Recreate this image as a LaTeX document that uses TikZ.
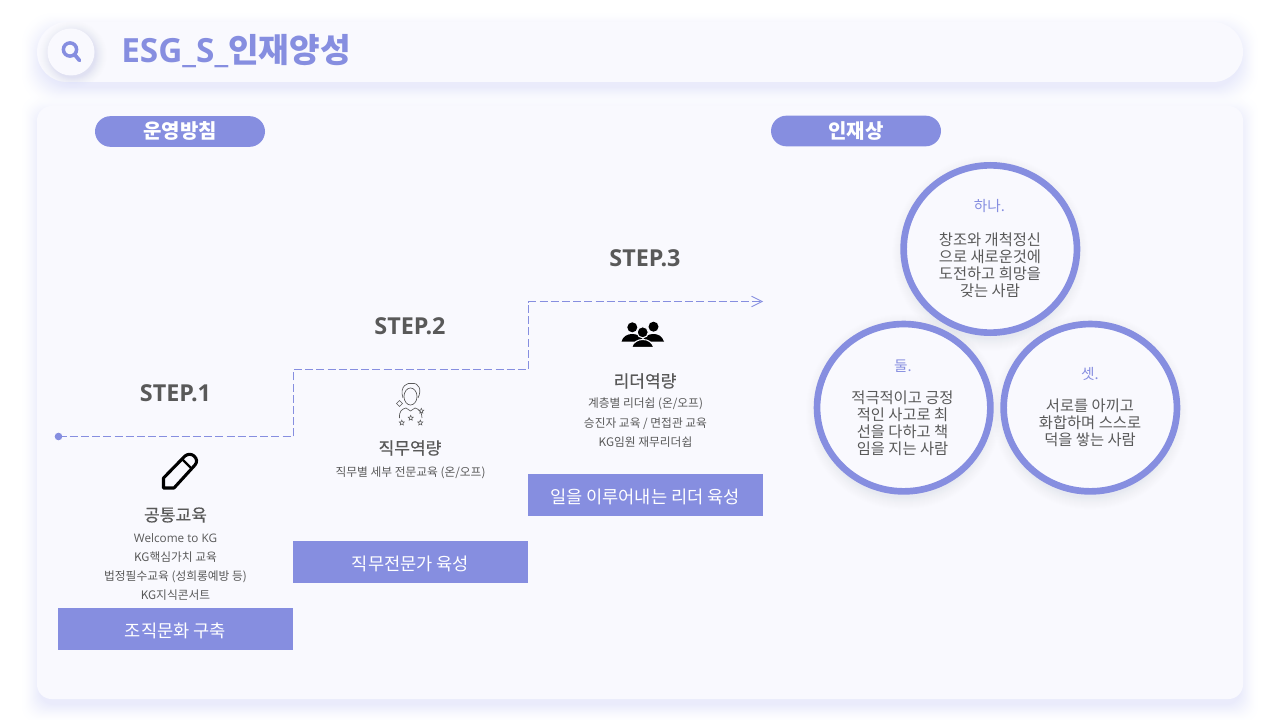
\documentclass[tikz,border=0pt]{standalone}
\usepackage{fontspec}
\setmainfont{Noto Sans CJK KR}
\newfontfamily\latinfont{Open Sans}
\newfontfamily\headfont[FakeBold=0.5]{Noto Sans CJK KR}
\usepackage{xcolor}
\usetikzlibrary{positioning,arrows.meta,shapes.geometric}
\definecolor{mainblue}{HTML}{868EE0}
\definecolor{panelbg}{HTML}{F9F9FE}
\definecolor{txtgray}{HTML}{595959}
\definecolor{shadowblue}{HTML}{9AA2EC}
\tikzset{
  pillbox/.style={fill=mainblue,text=white,rounded corners=11.6pt,minimum width=127.5pt,minimum height=23pt,inner sep=0pt,font=\fontsize{15}{18}\bfseries\selectfont},
  goalbox/.style={fill=mainblue,text=white,minimum width=176.25pt,minimum height=31.5pt,inner sep=0pt,text height=12pt,text depth=0pt,font=\fontsize{13.2}{15}\selectfont},
  steplabel/.style={text=txtgray,inner sep=0pt,font=\fontsize{17.5}{21}\latinfont\bfseries\selectfont},
  headlabel/.style={text=txtgray,inner sep=0pt,font=\fontsize{12.8}{15}\headfont\selectfont},
  smalllabel/.style={text=txtgray,inner sep=0pt,align=center,font=\fontsize{8.8}{14.4}\selectfont},
  ringcircle/.style={ellipse,draw=mainblue,fill=panelbg,line width=5pt,minimum width=130pt,minimum height=125.5pt,inner sep=0pt},
  ringhead/.style={text=mainblue,inner sep=0pt,font=\fontsize{11}{13}\selectfont},
  ringtext/.style={text=txtgray,inner sep=0pt,align=center,anchor=north,font=\fontsize{11.5}{12.75}\selectfont},
  iconstar/.style={star,star points=5,star point ratio=2.2,draw=txtgray,line width=0.4pt,minimum size=4pt,inner sep=0pt},
}
\begin{document}
\begin{tikzpicture}[x=0.75pt,y=0.75pt,yscale=-1,xscale=1]
\useasboundingbox (0,0) rectangle (1280,720);

%header bar and panel with their soft shadows
\foreach \s [evaluate=\s as \o using 0.0011*(20-\s)] in {19,18,...,0} {
  \fill [shadowblue,opacity=\o,rounded corners=22.5pt] (37-\s+2,22-\s+8) rectangle (1243+\s-2,82+\s+6);
  \fill [shadowblue,opacity=\o,rounded corners=11pt] (37-\s+2,106-\s+8) rectangle (1243+\s-2,699+\s+6);
}
\fill [panelbg,rounded corners=22.5pt] (37,22) rectangle (1243,82);
\fill [panelbg,rounded corners=11pt] (37,106) rectangle (1243,699);

%search badge
\foreach \s [evaluate=\s as \o using 0.003*(12-\s)] in {11,10,...,0} {
  \fill [shadowblue,opacity=\o] (73,55) circle (23+\s);
}
\fill [panelbg] (71,52) circle (23.5);
\draw [mainblue,line width=2.6pt] (70,49.5) circle (6.6);
\draw [mainblue,line width=2.8pt,line cap=round] (75,55) -- (79.5,60.5);

%title
\node (title) [anchor=west,text=mainblue,inner sep=0pt,font=\fontsize{25}{28}\bfseries\selectfont] at (121,51) {{\latinfont ESG\_S\_}인재양성};

%section labels
\node (policy) [pillbox] at (180,131.5) {운영방침};
\node (talent) [pillbox] at (856,131) {인재상};

%stair line
\coordinate (stairend) at (763,301.5);
\fill [mainblue] (58.5,436.5) circle (3.8);
\coordinate (stairstart) at (58.5,436.5);
\coordinate (turna) at (293.5,369.5);
\coordinate (turnb) at (528.5,301.5);
\draw [mainblue,line width=0.75pt,dash pattern=on 6pt off 2.4pt,-{Straight Barb[length=8pt,width=8pt,line width=0.6pt]}]
  (stairstart) -| (turna) -| (turnb) -- (stairend);

%step titles
\node (stepa) [steplabel] at (175.5,393) {STEP.1};
\node (stepb) [steplabel] at (410,326) {STEP.2};
\node (stepc) [steplabel] at (645,258) {STEP.3};

%pencil icon
\draw [black,line width=2.3pt,line join=round] (163.5,488) -- (163.5,478) -- (185,456) .. controls (188,453.5) and (192,454) .. (194,456) .. controls (197,458.5) and (197.5,462) .. (195,465) -- (174,488) -- cycle;
\draw [black,line width=1.6pt] (182,459) -- (192,469);

%person icon
\draw [txtgray,line width=0.5pt] (410.5,396.5) ellipse (6.5 and 8.5);
\draw [txtgray,line width=0.5pt] (403,398) .. controls (399,386) and (408,382) .. (412,383.5) .. controls (419,382.5) and (422,390) .. (418,398);
\draw [txtgray,line width=0.5pt] (399.5,418) .. controls (399,411) and (402,409) .. (406,408) -- (410.5,411) -- (415,408) .. controls (419,409) and (422,412) .. (422,418);
\node (stara) [iconstar] at (401.8,422.8) {};
\node (starb) [iconstar] at (410.7,418) {};
\node (starc) [iconstar] at (420.3,422.8) {};
\node (stard) [iconstar] at (421.3,411) {};
\node (stare) [diamond,draw=txtgray,line width=0.4pt,minimum size=4.5pt,inner sep=0pt] at (399.5,403.5) {};

%group icon
\fill [black] (632.3,327.3) circle (5);
\fill [black] (653.5,326.7) circle (5);
\fill [black] (621.5,341.5) .. controls (623,336) and (628,334) .. (632,334) .. controls (637,334) and (642,336) .. (644,341.5) -- cycle;
\fill [black] (642,341.5) .. controls (644,336) and (649,334) .. (653.5,334) .. controls (658,334) and (662,336) .. (664,341.5) -- cycle;
\fill [black,draw=panelbg,line width=0.8pt] (642.7,332.3) circle (5.6);
\fill [black,draw=panelbg,line width=0.8pt] (631.5,347.5) .. controls (633,342) and (638,339.5) .. (642.7,339.5) .. controls (648,339.5) and (652,342) .. (654,347.5) -- cycle;

%step contents
\node (heada) [headlabel] at (175.5,515) {공통교육};
\node (texta) [smalllabel,anchor=north] at (175.5,533) {{\latinfont Welcome to KG}\\KG핵심가치 교육\\법정필수교육 (성희롱예방 등)\\KG지식콘서트};
\node (goala) [goalbox] at (175.5,629) {조직문화 구축};

\node (headb) [headlabel] at (410,448) {직무역량};
\node (textb) [smalllabel] at (410.5,472.5) {직무별 세부 전문교육 (온/오프)};
\node (goalb) [goalbox] at (410.5,562) {직무전문가 육성};

\node (headc) [headlabel] at (645,381) {리더역량};
\node (textc) [smalllabel,anchor=north] at (645.5,398) {계층별 리더쉽 (온/오프)\\승진자 교육 / 면접관 교육\\KG임원 재무리더쉽};
\node (goalc) [goalbox] at (645,495) {일을 이루어내는 리더 육성};

%rings
\foreach \cx/\cy in {990.3/249,903.7/407.7,1090.3/407.7} {
  \foreach \s [evaluate=\s as \o using 0.0012*(14-\s)] in {13,12,...,0} {
    \fill [shadowblue,opacity=\o] (\cx,\cy+4) circle (86+\s);
  }
}
\node (ringa) [ringcircle] at (990.3,249) {};
\node (ringb) [ringcircle] at (903.7,407.7) {};
\node (ringc) [ringcircle] at (1090.3,407.7) {};

\node (ringheada) [ringhead] at (989.5,206) {하나.};
\node (ringtexta) [ringtext] at (990,232.5) {창조와 개척정신\\으로 새로운것에\\도전하고 희망을\\갖는 사람};
\node (ringheadb) [ringhead] at (903,366.5) {둘.};
\node (ringtextb) [ringtext] at (902.5,391) {적극적이고 긍정\\적인 사고로 최\\선을 다하고 책\\임을 지는 사람};
\node (ringheadc) [ringhead] at (1090,374) {셋.};
\node (ringtextc) [ringtext] at (1090,399) {서로를 아끼고\\화합하며 스스로\\덕을 쌓는 사람};

\end{tikzpicture}
\end{document}
